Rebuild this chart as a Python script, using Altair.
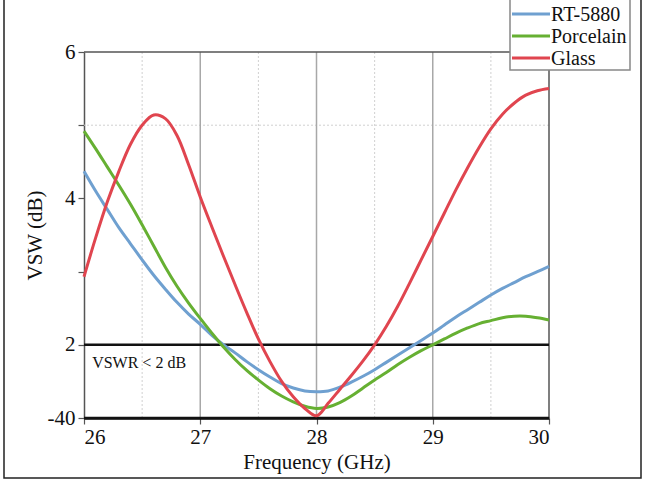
import altair as alt
import pandas as pd

# ---- data ----
freq = [26.0, 26.1, 26.2, 26.3, 26.4, 26.5, 26.6, 26.7, 26.8, 26.9,
        27.0, 27.1, 27.2, 27.3, 27.4, 27.5, 27.6, 27.7, 27.8, 27.9,
        28.0, 28.1, 28.2, 28.3, 28.4, 28.5, 28.6, 28.7, 28.8, 28.9,
        29.0, 29.1, 29.2, 29.3, 29.4, 29.5, 29.6, 29.7, 29.8, 29.9, 30.0]

vsw_glass = [2.93, 3.46, 3.95, 4.37, 4.74, 5.00, 5.14, 5.09, 4.86, 4.46,
             4.02, 3.61, 3.21, 2.82, 2.44, 2.08, 1.77, 1.50, 1.29, 1.13,
             1.03, 1.20, 1.39, 1.58, 1.78, 2.00, 2.25, 2.53, 2.84, 3.16,
             3.48, 3.80, 4.12, 4.42, 4.70, 4.95, 5.15, 5.30, 5.41, 5.47, 5.50]

vsw_rt = [4.37, 4.10, 3.85, 3.60, 3.38, 3.16, 2.95, 2.76, 2.58, 2.42,
          2.28, 2.13, 2.00, 1.89, 1.77, 1.66, 1.56, 1.47, 1.41, 1.37,
          1.36, 1.37, 1.42, 1.49, 1.57, 1.66, 1.76, 1.86, 1.96, 2.06,
          2.16, 2.27, 2.38, 2.48, 2.58, 2.68, 2.77, 2.85, 2.93, 3.00, 3.07]

vsw_por = [4.92, 4.68, 4.43, 4.18, 3.92, 3.64, 3.35, 3.06, 2.80, 2.57,
           2.36, 2.16, 1.97, 1.80, 1.65, 1.52, 1.40, 1.30, 1.22, 1.16,
           1.13, 1.15, 1.21, 1.30, 1.41, 1.52, 1.62, 1.73, 1.83, 1.92,
           2.00, 2.08, 2.16, 2.23, 2.29, 2.33, 2.37, 2.39, 2.39, 2.37, 2.34]

series_names = ["RT-5880", "Porcelain", "Glass"]
series_colors = ["#6fa0d0", "#66b032", "#e0454f"]

x_ticks = [26, 26.5, 27, 27.5, 28, 28.5, 29, 29.5, 30]
y_ticks = [1, 2, 3, 4, 5, 6]
major_x = [27, 28, 29]
minor_x = [26.5, 27.5, 28.5, 29.5]
minor_y = [5]
threshold = [1, 2]
note_x = [26.07]
note_y = [1.75]
note_text = ["VSWR < 2 dB"]

rows = []
for name, vy in [("RT-5880", vsw_rt), ("Porcelain", vsw_por), ("Glass", vsw_glass)]:
    for f, v in zip(freq, vy):
        rows.append({"series": name, "freq": f, "vsw": v})
df = pd.DataFrame(rows)

SERIF = "Liberation Serif"
xs = alt.Scale(domain=[26, 30], nice=False, zero=False)
ys = alt.Scale(domain=[1, 6], nice=False, zero=False)
cs = alt.Scale(domain=series_names, range=series_colors)

one = pd.DataFrame({"a": [0]})

frame = alt.Chart(one).mark_rect(
    fill=None, stroke="#222", strokeWidth=1.5
).encode(x=alt.value(-80), x2=alt.value(557), y=alt.value(-70), y2=alt.value(426))

grid_minor_x = alt.Chart(pd.DataFrame({"x": minor_x})).mark_rule(
    color="#d0d0d0", strokeDash=[2, 2], strokeWidth=1
).encode(x=alt.X("x:Q", scale=xs))
grid_minor_y = alt.Chart(pd.DataFrame({"y": minor_y})).mark_rule(
    color="#d0d0d0", strokeDash=[2, 2], strokeWidth=1
).encode(y=alt.Y("y:Q", scale=ys))
grid_major_x = alt.Chart(pd.DataFrame({"x": major_x})).mark_rule(
    color="#a8a8a8", strokeWidth=1.5
).encode(x=alt.X("x:Q", scale=xs))

border_top = alt.Chart(pd.DataFrame({"y": [6]})).mark_rule(color="#555", strokeWidth=1.5).encode(
    y=alt.Y("y:Q", scale=ys))
border_right = alt.Chart(pd.DataFrame({"x": [30]})).mark_rule(color="#555", strokeWidth=1.5).encode(
    x=alt.X("x:Q", scale=xs))
thresh = alt.Chart(pd.DataFrame({"y": threshold})).mark_rule(color="#111", strokeWidth=2.5).encode(
    y=alt.Y("y:Q", scale=ys))

lines = alt.Chart(df).mark_line(strokeWidth=3, interpolate="catmull-rom").encode(
    x=alt.X("freq:Q", scale=xs, title="Frequency (GHz)",
            axis=alt.Axis(values=x_ticks, format="d",
                          labelExpr="datum.value % 1 != 0 ? '' : datum.label",
                          grid=False, domainColor="#111", domainWidth=2.5, tickColor="#555",
                          tickSize=6, tickWidth=1.2, labelFontSize=21,
                          labelColor="#111", labelPadding=2, titleFontSize=21,
                          titleFontWeight="normal", titleColor="#111", titlePadding=4)),
    y=alt.Y("vsw:Q", scale=ys, title="VSW (dB)",
            axis=alt.Axis(values=y_ticks, format="d",
                          labelExpr="datum.value == 1 ? '-40' : (datum.value == 3 || datum.value == 5) ? '' : datum.label",
                          grid=False, domainColor="#555", domainWidth=1.5, tickColor="#555",
                          tickSize=6, tickWidth=1.2, labelFontSize=21,
                          labelColor="#111", labelPadding=3, titleFontSize=21,
                          titleFontWeight="normal", titleColor="#111", titlePadding=2)),
    color=alt.Color("series:N", scale=cs, legend=None),
    detail="series:N",
)

note = alt.Chart(pd.DataFrame({"x": note_x, "y": note_y, "t": note_text})).mark_text(
    align="left", baseline="middle", fontSize=16, color="#111"
).encode(x=alt.X("x:Q", scale=xs), y=alt.Y("y:Q", scale=ys), text="t:N")

# ---- hand-made legend box (top right, partly above the plot) ----
legend_box = alt.Chart(one).mark_rect(fill="white", stroke="#888", strokeWidth=1.5).encode(
    x=alt.value(426), x2=alt.value(546), y=alt.value(-70), y2=alt.value(18))
legend_layers = [legend_box]
row_y = [-38, -16, 6]
for name, ry in zip(series_names, row_y):
    d = pd.DataFrame({"series": [name]})
    legend_layers.append(
        alt.Chart(d).mark_rule(strokeWidth=3).encode(
            x=alt.value(428), x2=alt.value(466), y=alt.value(ry),
            color=alt.Color("series:N", scale=cs, legend=None)))
    legend_layers.append(
        alt.Chart(d).mark_text(align="left", baseline="middle", fontSize=20,
                               color="#111").encode(
            x=alt.value(467), y=alt.value(ry + 1), text="series:N"))

chart = alt.layer(frame, grid_minor_x, grid_minor_y, grid_major_x, border_top, border_right,
                  thresh, lines, note, *legend_layers).properties(
    width=465, height=366,
    padding={"left": 84, "top": 52, "right": 101, "bottom": 64},
    autosize=alt.AutoSizeParams(type="none"),
).configure(
    background="white", font=SERIF
).configure_axis(
    labelFont=SERIF, titleFont=SERIF
).configure_text(font=SERIF).configure_view(stroke=None)

chart.save("out.html", embed_options={"renderer": "svg", "actions": False})
